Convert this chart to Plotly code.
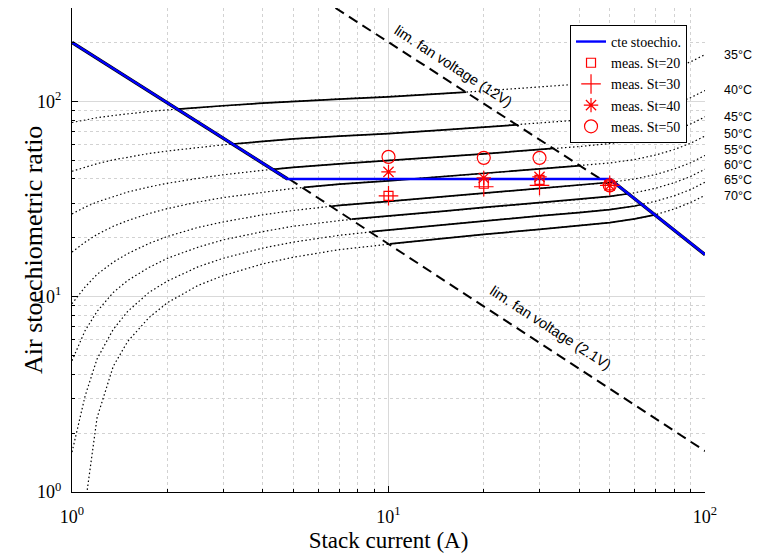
import math
import plotly.graph_objects as go

# ---------------- data ----------------
# stack current grid (A) for the full temperature curves
I_grid = [1.0, 1.1, 1.2, 1.35, 1.5, 1.75, 2.0, 2.5, 3.0, 4.0, 5.0, 7.0,
          10, 15, 20, 30, 40, 50, 60, 70, 80, 90, 100]

temps = ["35°C", "40°C", "45°C", "50°C", "55°C", "60°C", "65°C", "70°C"]

# air stoichiometric ratio along each temperature curve (full range, dotted)
lam_full = {
    "35°C": [77.8, 80.2, 82.3, 84.5, 86.3, 88.6, 90.3, 92.9, 94.8, 97.8, 99.9, 102.6,
             105.3, 109.5, 112.9, 118.2, 122.4, 126.6, 131.7, 138.8, 147.9, 159.0, 173.2],
    "40°C": [43.8, 46.0, 47.9, 50.1, 51.8, 54.0, 55.6, 58.0, 59.8, 62.3, 64.1, 66.3,
             68.3, 71.3, 73.6, 77.3, 80.1, 82.9, 86.2, 90.9, 96.9, 104.2, 113.5],
    "45°C": [26.5, 28.7, 30.5, 32.6, 34.3, 36.4, 38.0, 40.3, 42.0, 44.3, 45.9, 47.8,
             49.6, 52.0, 53.8, 56.5, 58.6, 60.7, 63.2, 66.6, 71.0, 76.4, 83.2],
    "50°C": [16.9, 19.0, 20.8, 22.9, 24.5, 26.6, 28.2, 30.5, 32.1, 34.3, 35.8, 37.6,
             39.1, 41.2, 42.7, 45.0, 46.7, 48.3, 50.3, 53.1, 56.6, 60.9, 66.4],
    "55°C": [9.2, 11.2, 13.0, 15.0, 16.6, 18.7, 20.3, 22.6, 24.1, 26.2, 27.6, 29.3,
             30.7, 32.5, 33.8, 35.6, 37.1, 38.4, 40.0, 42.2, 45.0, 48.4, 52.8],
    "60°C": [4.7, 6.7, 8.4, 10.5, 12.1, 14.1, 15.7, 17.9, 19.5, 21.5, 22.9, 24.5,
             25.8, 27.4, 28.6, 30.2, 31.4, 32.6, 34.0, 35.9, 38.3, 41.2, 44.9],
    "65°C": [1.6, 3.1, 4.8, 6.8, 8.4, 10.5, 12.0, 14.2, 15.7, 17.7, 19.0, 20.6,
             21.9, 23.4, 24.4, 25.9, 26.9, 27.9, 29.1, 30.8, 32.8, 35.3, 38.5],
    "70°C": [None, 0.85, 2.4, 4.4, 5.9, 7.8, 9.3, 11.4, 12.8, 14.7, 15.9, 17.4,
             18.6, 19.9, 20.8, 22.1, 23.0, 23.9, 25.0, 26.3, 28.1, 30.3, 33.0],
}

# feasible (solid) part of each curve, between the fan-voltage / stoichiometry limits
I_solid = {
    "35°C": [2.16, 2.5, 3, 4, 5, 7, 10, 15, 17.6],
    "40°C": [3.21, 4, 5, 7, 10, 15, 20, 25.4],
    "45°C": [4.3, 5, 7, 10, 15, 20, 30, 33.2],
    "50°C": [5.4, 7, 10, 15, 20, 30, 40.5],
    "55°C": [6.6, 7, 10, 15, 20, 30, 40, 50, 51.4],
    "60°C": [7.65, 10, 15, 20, 30, 40, 50, 57.2],
    "65°C": [8.85, 10, 15, 20, 30, 40, 50, 60, 63],
    "70°C": [10.1, 15, 20, 30, 40, 50, 60, 69.3],
}
lam_solid = {
    "35°C": [91.1, 92.9, 94.8, 97.8, 99.9, 102.6, 105.3, 109.5, 111.2],
    "40°C": [60.4, 62.3, 64.1, 66.3, 68.3, 71.3, 73.6, 75.7],
    "45°C": [44.8, 45.9, 47.8, 49.6, 52.0, 53.8, 56.5, 57.3],
    "50°C": [36.2, 37.6, 39.1, 41.2, 42.7, 45.0, 46.8],
    "55°C": [29.0, 29.3, 30.7, 32.5, 33.8, 35.6, 37.1, 38.4, 38.6],
    "60°C": [24.9, 25.8, 27.4, 28.6, 30.2, 31.4, 32.6, 33.6],
    "65°C": [21.5, 21.9, 23.4, 24.4, 25.9, 26.9, 27.9, 29.1, 29.6],
    "70°C": [18.6, 19.9, 20.8, 22.1, 23.0, 23.9, 25.0, 26.2],
}

# heights of the temperature tags at the right edge
temp_label_lam = [173, 114, 83.5, 68.0, 56.0, 47.0, 39.3, 32.9]

# constant stoichiometry control law
I_cte = [1, 4.8, 50, 100]
lam_cte = [200, 40, 40, 16.4]

# fan voltage limits
I_12V = [6.8, 50]
lam_12V = [300, 37.3]
I_21V = [4.85, 100]
lam_21V = [40, 1.62]

# position of the limit captions (I, lambda)
cap_12V = (16.0, 151.8)
cap_21V = (32.6, 6.9)

# measurements
I_meas = [10, 20, 30, 50]
meas = {
    "meas. St=20": [32.8, 37.8, 39.6, 37.1],
    "meas. St=30": [32.8, 36.5, 37.1, 37.1],
    "meas. St=40": [43.5, 40.5, 41.0, 37.1],
    "meas. St=50": [51.9, 51.3, 51.3, 37.1],
}
meas_symbols = ["square-open", "cross-thin-open", "asterisk-open", "circle-open"]
meas_sizes = [9, 14, 12, 13]

# ---------------- figure ----------------
SERIF = "Liberation Serif, Times New Roman, serif"
SANS = "Liberation Sans, Arial, sans-serif"

fig = go.Figure()

for t in temps:
    fig.add_trace(go.Scatter(
        x=I_grid, y=lam_full[t], mode="lines", connectgaps=False,
        line=dict(color="#000000", width=1.2, dash="1.5px,2.5px"),
        showlegend=False, hoverinfo="skip"))

for t in temps:
    fig.add_trace(go.Scatter(
        x=I_solid[t], y=lam_solid[t], mode="lines",
        line=dict(color="black", width=1.7),
        showlegend=False, hoverinfo="skip"))

for xs, ys in ((I_12V, lam_12V), (I_21V, lam_21V)):
    fig.add_trace(go.Scatter(
        x=xs, y=ys, mode="lines",
        line=dict(color="black", width=2, dash="10px,6px"),
        showlegend=False, hoverinfo="skip"))

# dark edge along the sloped parts of the control law
fig.add_trace(go.Scatter(
    x=[I_cte[0], I_cte[1], None, I_cte[2], I_cte[3]],
    y=[lam_cte[0], lam_cte[1], None, lam_cte[2], lam_cte[3]],
    mode="lines", line=dict(color="black", width=3.4),
    showlegend=False, hoverinfo="skip"))

fig.add_trace(go.Scatter(
    x=I_cte, y=lam_cte, mode="lines", name="cte stoechio.",
    line=dict(color="#0000ff", width=2.4)))

for (name, vals), sym, sz in zip(meas.items(), meas_symbols, meas_sizes):
    fig.add_trace(go.Scatter(
        x=I_meas, y=vals, mode="markers", name=name,
        marker=dict(symbol=sym, size=sz, color="#ff0000",
                    line=dict(color="#ff0000", width=1.2))))

# temperature tags (log axes take annotation positions in decades)
for t, lv in zip(temps, temp_label_lam):
    fig.add_annotation(x=1.027, xref="paper", y=math.log10(lv), yref="y",
                       yanchor="middle", xanchor="left", text=t, showarrow=False,
                       font=dict(family=SANS, size=12.5, color="black"))

for (ci, cl), txt in ((cap_12V, "lim. fan voltage (12V)"), (cap_21V, "lim. fan voltage (2.1V)")):
    fig.add_annotation(x=math.log10(ci), y=math.log10(cl), xref="x", yref="y", text=txt,
                       textangle=33, showarrow=False,
                       font=dict(family=SANS, size=14.5, color="black"))

# y axis title, set close to the tick labels
fig.add_annotation(x=-0.0616, xref="paper", y=0.5, yref="paper", text="Air stoechiometric ratio",
                   textangle=-90, showarrow=False, xanchor="center", yanchor="middle",
                   font=dict(family=SERIF, size=26, color="black"))

minor_vals = [k * 10 ** d for d in range(0, 3) for k in range(2, 10)]

common_axis = dict(
    type="log", showline=True, linecolor="black", linewidth=1,
    ticks="inside", ticklen=6, tickcolor="black",
    showgrid=True, gridcolor="#d9d9d9", gridwidth=1,
    zeroline=False, mirror=False,
    tickfont=dict(family=SERIF, size=18, color="black"),
    minor=dict(tickvals=minor_vals, ticks="inside", ticklen=3, tickcolor="black",
               showgrid=True, gridcolor="#d2d2d2", griddash="dot", gridwidth=1),
)

fig.update_xaxes(**common_axis, range=[0, 2],
                 tickvals=[1, 10, 100], ticklabelstandoff=8,
                 ticktext=["10<sup>0</sup>", "10<sup>1</sup>", "10<sup>2</sup>"],
                 title=dict(text="Stack current (A)",
                            font=dict(family=SERIF, size=23, color="black"), standoff=6))
fig.update_yaxes(**common_axis, range=[0, 2.4771],
                 tickvals=[1, 10, 100], ticklabelstandoff=6,
                 ticktext=["10<sup>0</sup>", "10<sup>1</sup>", "10<sup>2</sup>"])

fig.update_layout(
    width=758, height=559,
    margin=dict(l=72, r=53, t=8, b=67),
    plot_bgcolor="white", paper_bgcolor="white",
    legend=dict(x=0.9716, y=0.965, xanchor="right", yanchor="top",
                bgcolor="white", bordercolor="black", borderwidth=1,
                font=dict(family=SERIF, size=14, color="black"),
                tracegroupgap=0, itemwidth=30),
)

fig.write_html("out.html")
